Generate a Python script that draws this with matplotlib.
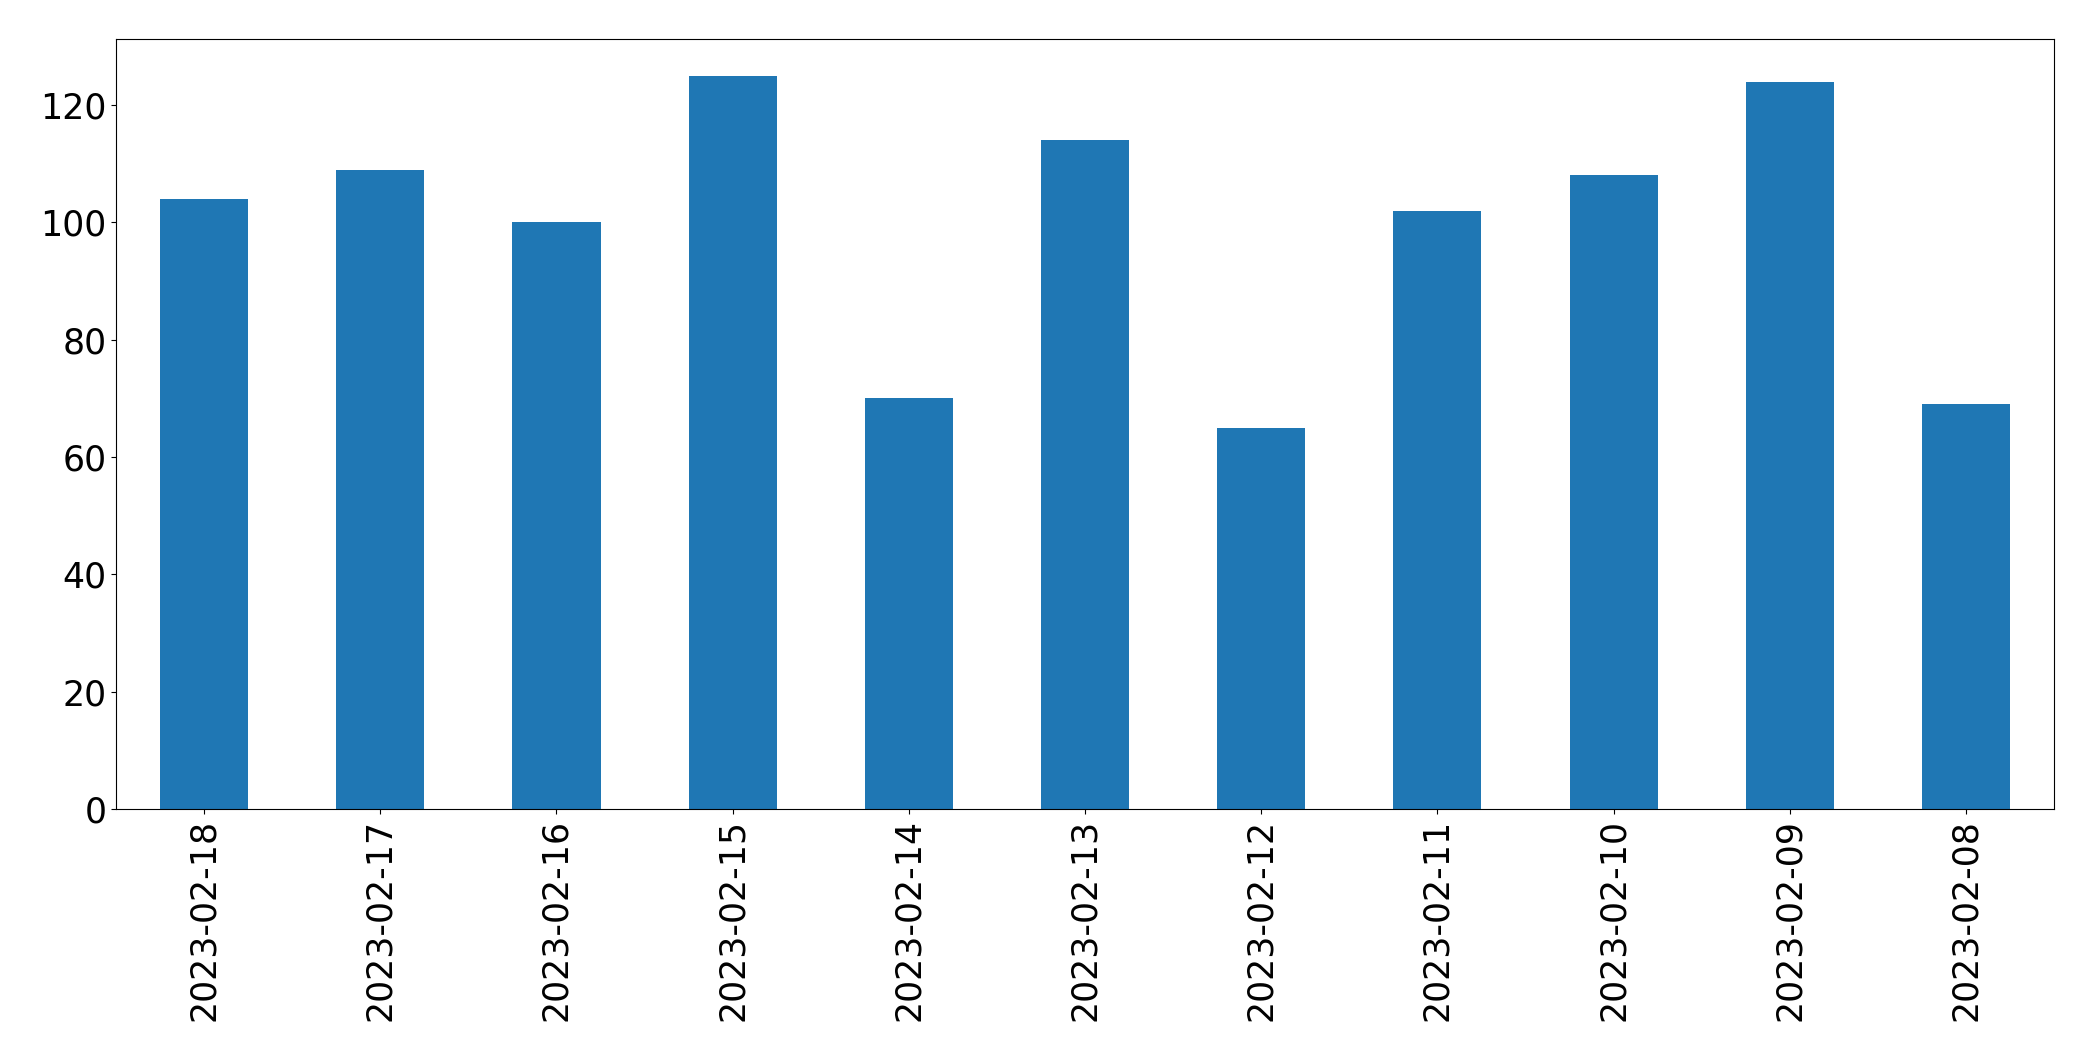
import matplotlib
matplotlib.use("Agg")
import matplotlib.pyplot as plt
import numpy as np

dates = ["2023-02-18", "2023-02-17", "2023-02-16", "2023-02-15", "2023-02-14",
         "2023-02-13", "2023-02-12", "2023-02-11", "2023-02-10", "2023-02-09",
         "2023-02-08"]
counts = [104, 109, 100, 125, 70, 114, 65, 102, 108, 124, 69]

fig = plt.figure(figsize=(20.93, 10.61), dpi=100)
ax = fig.add_axes([116 / 2093, 1 - 809 / 1061, (2054 - 116) / 2093, (809 - 39) / 1061])

x = np.arange(len(dates))
ax.bar(x, counts, width=0.5, color="#1f77b4")
ax.set_xlim(-0.5, len(dates) - 0.5)
ax.set_xticks(x)
ax.set_xticklabels(dates, rotation=90)
ax.tick_params(labelsize=25)

fig.savefig("out.png", dpi=100)
